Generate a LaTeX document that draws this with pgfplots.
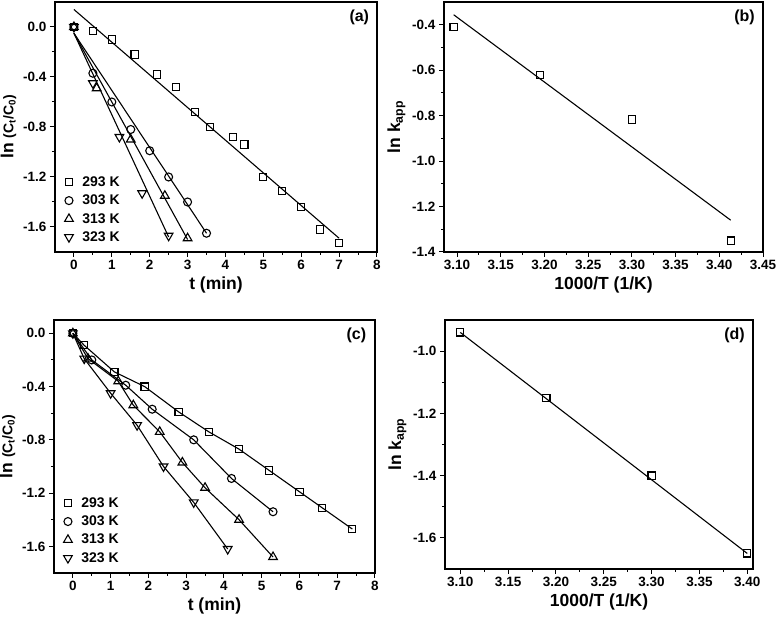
\documentclass[border=0pt]{standalone}
\usepackage{fontspec}
\setmainfont{Liberation Sans}
\usepackage{pgfplots}
\pgfplotsset{compat=1.18}

\tikzset{tlab/.style={font=\bfseries\fontsize{16}{18}\selectfont}}
\pgfplotsset{
  kin/.style={
    scale only axis,
    axis line style={line width=1.2pt},
    every tick/.style={line width=1pt, black},
    tick align=outside,
    xtick pos=left, ytick pos=left,
    major tick length=5pt, minor tick length=3pt,
    minor x tick num=1, minor y tick num=1,
    tick label style={font=\bfseries\fontsize{13.5}{15}\selectfont},
    label style={font=\bfseries\fontsize{17.5}{20}\selectfont},
    /pgf/number format/assume math mode=true,
    y tick label style={/pgf/number format/.cd, fixed, fixed zerofill, precision=1},
    legend style={at={(0.02,0.02)}, anchor=south west, draw=none, fill=none,
      font=\bfseries\fontsize{14}{16}\selectfont, row sep=3pt,
      /tikz/every odd column/.append style={column sep=7pt}},
    legend cell align=left,
  },
  fit/.style={black, line width=1.1pt, no marks},
  pt/.style={only marks, mark options={solid, black, line width=1.1pt, fill=white}},
  k293/.style={mark=square, mark size=3.6pt},
  k303/.style={mark=o, mark size=4pt},
  k313/.style={mark=triangle, mark size=5pt},
  k323/.style={mark=triangle, mark size=5pt, mark options={rotate=180, solid, black, line width=1.1pt, fill=white}},
}

\begin{document}
\begin{tikzpicture}
\path[use as bounding box] (0,0) rectangle (777pt,620pt);

% (a)
\begin{axis}[kin, at={(55pt,368pt)}, anchor=south west, width=322pt, height=250pt,
  xmin=-0.5, xmax=8, ymin=-1.8, ymax=0.2,
  xtick={0,1,...,8}, ytick={-1.6,-1.2,-0.8,-0.4,0},
  xlabel={t (min)},
  ylabel={ln {\fontsize{14}{16}\selectfont(C\textsubscript{t}/C\textsubscript{0})}}]
\addplot[fit, forget plot] coordinates {(0,0.14) (7,-1.69)};
\addplot[fit, forget plot] coordinates {(0,-0.05) (3.5,-1.65)};
\addplot[fit, forget plot] coordinates {(0,-0.05) (3,-1.70)};
\addplot[fit, forget plot] coordinates {(0,-0.05) (2.5,-1.68)};
\addplot[pt, k293] coordinates {(0,0) (0.5,-0.03) (1,-0.10) (1.6,-0.22) (2.2,-0.38) (2.7,-0.48)
  (3.2,-0.68) (3.6,-0.80) (4.2,-0.88) (4.5,-0.94) (5,-1.20) (5.5,-1.31) (6,-1.44) (6.5,-1.62) (7,-1.73)};
\addplot[pt, k303] coordinates {(0,0) (0.5,-0.37) (1,-0.60) (1.5,-0.82) (2,-0.99) (2.5,-1.20) (3,-1.40) (3.5,-1.65)};
\addplot[pt, k313] coordinates {(0,0) (0.6,-0.49) (1.5,-0.90) (2.4,-1.35) (3,-1.69)};
\addplot[pt, k323] coordinates {(0,0) (0.5,-0.45) (1.2,-0.88) (1.8,-1.33) (2.5,-1.67)};
\legend{293 K, 303 K, 313 K, 323 K}
\node[tlab] at (rel axis cs:0.945,0.94) {(a)};
\end{axis}

% (b)
\begin{axis}[kin, at={(444pt,368pt)}, anchor=south west, width=319pt, height=250pt,
  xmin=3.085, xmax=3.45, ymin=-1.4, ymax=-0.3,
  xtick={3.10,3.15,...,3.46}, ytick={-1.4,-1.2,-1.0,-0.8,-0.6,-0.4},
  x tick label style={/pgf/number format/.cd, fixed, fixed zerofill, precision=2},
  xlabel={1000/T (1/K)},
  ylabel={ln k\textsubscript{app}}]
\addplot[fit] coordinates {(3.096,-0.356) (3.413,-1.26)};
\addplot[pt, k293] coordinates {(3.096,-0.41) (3.195,-0.62) (3.300,-0.817) (3.413,-1.35)};
\node[tlab] at (rel axis cs:0.942,0.94) {(b)};
\end{axis}

% (c)
\begin{axis}[kin, at={(54pt,47pt)}, anchor=south west, width=321pt, height=253pt,
  xmin=-0.5, xmax=8, ymin=-1.8, ymax=0.1,
  xtick={0,1,...,8}, ytick={-1.6,-1.2,-0.8,-0.4,0},
  xlabel={t (min)},
  ylabel={ln {\fontsize{14}{16}\selectfont(C\textsubscript{t}/C\textsubscript{0})}}]
\addplot[fit, forget plot] coordinates {(0,0) (0.3,-0.09) (1.1,-0.29) (1.9,-0.40) (2.8,-0.59) (3.6,-0.74)
  (4.4,-0.87) (5.2,-1.03) (6.0,-1.19) (6.6,-1.31) (7.4,-1.47)};
\addplot[fit, forget plot] coordinates {(0,0) (0.5,-0.20) (1.4,-0.39) (2.1,-0.57) (3.2,-0.80) (4.2,-1.09) (5.3,-1.34)};
\addplot[fit, forget plot] coordinates {(0,0) (0.4,-0.19) (1.2,-0.36) (1.6,-0.54) (2.3,-0.74) (2.9,-0.97)
  (3.5,-1.16) (4.4,-1.40) (5.3,-1.68)};
\addplot[fit, forget plot] coordinates {(0,0) (0.3,-0.19) (1.0,-0.45) (1.7,-0.69) (2.4,-1.00) (3.2,-1.27) (4.1,-1.62)};
\addplot[pt, k293] coordinates {(0,0) (0.3,-0.09) (1.1,-0.29) (1.9,-0.40) (2.8,-0.59) (3.6,-0.74)
  (4.4,-0.87) (5.2,-1.03) (6.0,-1.19) (6.6,-1.31) (7.4,-1.47)};
\addplot[pt, k303] coordinates {(0,0) (0.5,-0.20) (1.4,-0.39) (2.1,-0.57) (3.2,-0.80) (4.2,-1.09) (5.3,-1.34)};
\addplot[pt, k313] coordinates {(0,0) (0.4,-0.19) (1.2,-0.36) (1.6,-0.54) (2.3,-0.74) (2.9,-0.97)
  (3.5,-1.16) (4.4,-1.40) (5.3,-1.68)};
\addplot[pt, k323] coordinates {(0,0) (0.3,-0.19) (1.0,-0.45) (1.7,-0.69) (2.4,-1.00) (3.2,-1.27) (4.1,-1.62)};
\legend{293 K, 303 K, 313 K, 323 K}
\node[tlab] at (rel axis cs:0.942,0.94) {(c)};
\end{axis}

% (d)
\begin{axis}[kin, at={(445pt,51pt)}, anchor=south west, width=308pt, height=249pt,
  xmin=3.084, xmax=3.406, ymin=-1.7, ymax=-0.9, clip=false,
  xtick={3.10,3.15,...,3.41}, ytick={-1.6,-1.4,-1.2,-1.0},
  x tick label style={/pgf/number format/.cd, fixed, fixed zerofill, precision=2},
  xlabel={1000/T (1/K)},
  ylabel={ln k\textsubscript{app}}]
\addplot[fit] coordinates {(3.10,-0.94) (3.40,-1.65)};
\addplot[pt, k293] coordinates {(3.10,-0.94) (3.19,-1.15) (3.30,-1.40) (3.40,-1.65)};
\node[tlab] at (rel axis cs:0.94,0.94) {(d)};
\end{axis}
\end{tikzpicture}
\end{document}
